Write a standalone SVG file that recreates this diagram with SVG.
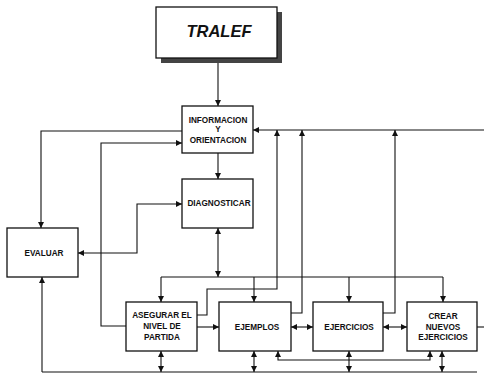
<svg xmlns="http://www.w3.org/2000/svg" width="484" height="375" viewBox="0 0 484 375">
<style>
.box{fill:#fff;stroke:#111;stroke-width:1.3}
.t{font-family:"Liberation Sans",Arial,sans-serif;font-weight:bold;font-size:8.2px;fill:#111;text-anchor:middle}
.c{fill:none;stroke:#111;stroke-width:1.1}
</style>
<defs>
<marker id="a" viewBox="0 0 10 10" refX="10" refY="5" markerUnits="userSpaceOnUse" markerWidth="6" markerHeight="6" orient="auto-start-reverse"><path d="M0,0L10,5L0,10z" fill="#111"/></marker>
</defs>
<rect width="484" height="375" fill="#fff"/>
<g id="tralef">
<rect x="161" y="12" width="121" height="51" fill="#444"/>
<rect class="box" x="156" y="7" width="121" height="51"/>
<text x="219" y="37" font-family="Liberation Sans,Arial,sans-serif" font-weight="bold" font-style="italic" font-size="16.5" text-anchor="middle" fill="#111">TRALEF</text>
</g>
<g id="informacion">
<rect class="box" x="182" y="106" width="71" height="47"/>
<text class="t" x="218" y="123">INFORMACION</text>
<text class="t" x="218" y="132">Y</text>
<text class="t" x="218" y="143">ORIENTACION</text>
</g>
<g id="diagnosticar">
<rect class="box" x="182" y="179" width="71" height="49"/>
<text class="t" x="219" y="206">DIAGNOSTICAR</text>
</g>
<g id="evaluar">
<rect class="box" x="7" y="228" width="71" height="49"/>
<text class="t" x="44" y="256">EVALUAR</text>
</g>
<g id="asegurar">
<rect class="box" x="126" y="302" width="71" height="49"/>
<text class="t" x="162" y="318">ASEGURAR EL</text>
<text class="t" x="162" y="329">NIVEL DE</text>
<text class="t" x="162" y="340">PARTIDA</text>
</g>
<g id="ejemplos">
<rect class="box" x="219" y="302" width="72" height="49"/>
<text class="t" x="257" y="330">EJEMPLOS</text>
</g>
<g id="ejercicios">
<rect class="box" x="313" y="302" width="70" height="49"/>
<text class="t" x="349" y="330">EJERCICIOS</text>
</g>
<g id="crear">
<rect class="box" x="407" y="302" width="70" height="49"/>
<text class="t" x="443" y="319">CREAR</text>
<text class="t" x="443" y="330">NUEVOS</text>
<text class="t" x="443" y="340">EJERCICIOS</text>
</g>
<g id="connectors">
<path class="c" d="M218,63V106" marker-end="url(#a)"/>
<path class="c" d="M218,153V179" marker-end="url(#a)"/>
<path class="c" d="M218,228V277" marker-start="url(#a)" marker-end="url(#a)"/>
<path class="c" d="M161,277H443"/>
<path class="c" d="M161,277V302" marker-end="url(#a)"/>
<path class="c" d="M254,277V302" marker-end="url(#a)"/>
<path class="c" d="M349,277V302" marker-end="url(#a)"/>
<path class="c" d="M443,277V302" marker-end="url(#a)"/>
<path class="c" d="M484,130H253" marker-end="url(#a)"/>
<path class="c" d="M197,315H207V289H277V130" marker-end="url(#a)"/>
<path class="c" d="M291,313H302V130" marker-end="url(#a)"/>
<path class="c" d="M383,313H395V130" marker-end="url(#a)"/>
<path class="c" d="M182,131H41V228" marker-end="url(#a)"/>
<path class="c" d="M126,326H101V143H182" marker-end="url(#a)"/>
<path class="c" d="M182,204H137V253H78" marker-start="url(#a)" marker-end="url(#a)"/>
<path class="c" d="M197,327H219" marker-end="url(#a)"/>
<path class="c" d="M291,327H313" marker-start="url(#a)" marker-end="url(#a)"/>
<path class="c" d="M383,327H407" marker-start="url(#a)" marker-end="url(#a)"/>
<path class="c" d="M477,327H484"/>
<path class="c" d="M42,372H477"/>
<path class="c" d="M42,372V277" marker-end="url(#a)"/>
<path class="c" d="M161,351V372" marker-start="url(#a)" marker-end="url(#a)"/>
<path class="c" d="M254,351V372" marker-start="url(#a)" marker-end="url(#a)"/>
<path class="c" d="M349,351V372" marker-start="url(#a)" marker-end="url(#a)"/>
<path class="c" d="M442,351V372" marker-start="url(#a)" marker-end="url(#a)"/>
<path class="c" d="M278,351V360H430V351" marker-start="url(#a)" marker-end="url(#a)"/>
</g>
</svg>
